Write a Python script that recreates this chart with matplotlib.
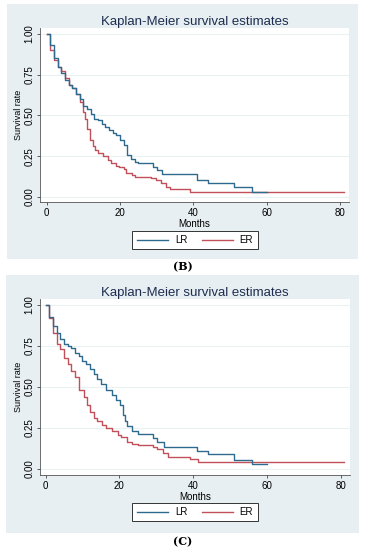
import matplotlib.pyplot as plt
from matplotlib.patches import Rectangle

plt.rcParams["font.family"] = ["Liberation Sans", "DejaVu Sans"]

# panel B (months, survival)
b_lr_t = [0, 1, 2, 3, 4, 5, 6, 7, 8, 9, 10, 11, 12, 13, 14, 15, 16, 17, 18, 19, 20, 21, 22, 23, 24, 25, 29, 30, 31.5, 41, 44, 51, 56, 60]
b_lr_s = [1.0, 0.93, 0.85, 0.80, 0.76, 0.72, 0.69, 0.67, 0.63, 0.60, 0.56, 0.54, 0.51, 0.48, 0.47, 0.45, 0.43, 0.41, 0.39, 0.38, 0.35, 0.32, 0.26, 0.23, 0.217, 0.21, 0.186, 0.166, 0.141, 0.104, 0.088, 0.063, 0.033, 0.033]
b_er_t = [0, 1, 2, 3, 4, 5, 6, 7, 8, 9, 10, 10.5, 11, 11.8, 12.7, 13.2, 14.1, 15.4, 16.8, 17.5, 18.9, 19.8, 21, 21.5, 23.2, 24, 28.5, 29.9, 31.2, 32.4, 33.5, 39, 81]
b_er_s = [1.0, 0.90, 0.84, 0.80, 0.77, 0.73, 0.69, 0.67, 0.63, 0.58, 0.52, 0.48, 0.42, 0.35, 0.31, 0.29, 0.27, 0.25, 0.227, 0.21, 0.19, 0.182, 0.17, 0.145, 0.135, 0.125, 0.115, 0.104, 0.084, 0.06, 0.047, 0.033, 0.033]

# panel C
c_lr_t = [0, 1, 2, 3, 4, 5, 6, 7, 8, 9, 10, 11, 12, 13, 14, 15, 16.5, 17.9, 19.2, 20.1, 21, 21.6, 22.2, 23.5, 25, 29.1, 30.3, 32.1, 41, 44, 51, 56, 60]
c_lr_s = [1.0, 0.93, 0.87, 0.83, 0.79, 0.76, 0.75, 0.74, 0.71, 0.69, 0.66, 0.64, 0.61, 0.58, 0.55, 0.52, 0.48, 0.45, 0.42, 0.39, 0.33, 0.29, 0.26, 0.23, 0.213, 0.187, 0.167, 0.136, 0.11, 0.09, 0.055, 0.03, 0.03]
c_er_t = [0, 1, 2, 3, 4, 5, 6, 7, 8, 9, 10.3, 11.2, 12.1, 13, 13.9, 15.2, 16.5, 17.9, 19.7, 20.5, 22.2, 23.5, 25, 29.1, 30.3, 31.7, 33.2, 39.1, 41.3, 81]
c_er_s = [1.0, 0.92, 0.83, 0.76, 0.73, 0.68, 0.64, 0.60, 0.56, 0.48, 0.44, 0.39, 0.35, 0.31, 0.29, 0.27, 0.25, 0.23, 0.21, 0.197, 0.167, 0.152, 0.146, 0.136, 0.12, 0.10, 0.071, 0.059, 0.04, 0.04]

x_ticks = [0, 20, 40, 60, 80]
y_ticks = [0.0, 0.25, 0.5, 0.75, 1.0]
y_ticklabels = ["0.00", "0.25", "0.50", "0.75", "1.00"]
series_labels = ["LR", "ER"]
panel_labels = ["(B)", "(C)"]

BG = "#e7eff2"
BLUE = "#2e6a8e"
RED = "#c2505a"
W, H = 371, 550

fig = plt.figure(figsize=(3.71, 5.50), dpi=100)


def px_rect(x0, y0, x1, y1):
    return [x0 / W, 1 - y1 / H, (x1 - x0) / W, (y1 - y0) / H]


def panel(bg_box, ax_box, legend_y, label_y, xlim, ylim, lr, er, label):
    r = px_rect(*bg_box)
    fig.patches.append(Rectangle((r[0], r[1]), r[2], r[3], transform=fig.transFigure,
                                 facecolor=BG, edgecolor="none", zorder=-5))
    ax = fig.add_axes(px_rect(*ax_box))
    ax.set_facecolor("white")
    for y in y_ticks:
        ax.axhline(y, color="#eaf1f3", lw=0.8, zorder=1)
    l1, = ax.step(lr[0], lr[1], where="post", color=BLUE, lw=1.0, zorder=3)
    l2, = ax.step(er[0], er[1], where="post", color=RED, lw=1.0, zorder=2)
    ax.set_xlim(*xlim)
    ax.set_ylim(*ylim)
    ax.set_xticks(x_ticks)
    ax.set_yticks(y_ticks)
    ax.set_yticklabels(y_ticklabels, rotation=90, va="center")
    ax.tick_params(labelsize=7, length=2.5, width=0.6, pad=1.5, color="#444444")
    for s in ["top", "right"]:
        ax.spines[s].set_visible(False)
    for s in ["left", "bottom"]:
        ax.spines[s].set_color("#555555")
        ax.spines[s].set_linewidth(0.6)
    ax.set_xlabel("Months", fontsize=7, labelpad=1)
    ax.set_ylabel("Survival rate", fontsize=6.5, labelpad=1)
    ax.set_title("Kaplan-Meier survival estimates", fontsize=9.5, color="#1e2d4f", pad=2)
    leg = fig.legend([l1, l2], series_labels, loc="center", ncol=2,
                     bbox_to_anchor=(195 / W, 1 - legend_y / H), fontsize=7,
                     frameon=True, fancybox=False, handlelength=3.2, columnspacing=1.5,
                     borderpad=0.45, handletextpad=0.7, framealpha=1)
    leg.get_frame().set_edgecolor("#333333")
    leg.get_frame().set_linewidth(0.7)
    fig.text(183 / W, 1 - label_y / H, label, fontsize=8, fontweight="bold",
             family="DejaVu Serif", ha="center", va="center")
    return ax


panel((7, 4, 358, 259), (40, 28, 349, 202), 240, 267, (-1.8, 82.4), (-0.031, 1.037),
      (b_lr_t, b_lr_s), (b_er_t, b_er_s), panel_labels[0])
panel((6, 275, 359, 533), (40, 299, 350, 475), 512, 542, (-1.5, 82.5), (-0.037, 1.037),
      (c_lr_t, c_lr_s), (c_er_t, c_er_s), panel_labels[1])

fig.savefig("out.png", dpi=100)
